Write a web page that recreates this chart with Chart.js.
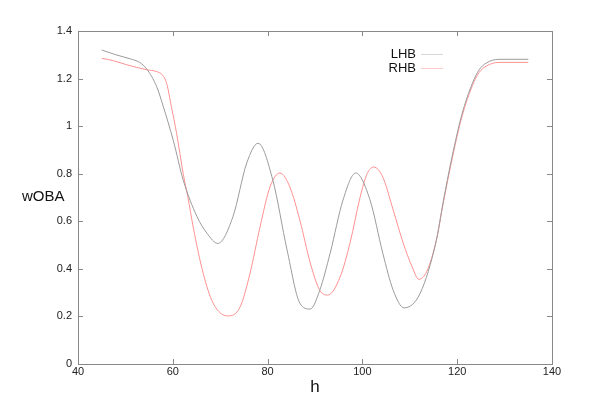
<!DOCTYPE html>
<html>
<head>
<meta charset="utf-8">
<script src="https://cdn.jsdelivr.net/npm/chart.js@4"></script>
<style>
  html, body { margin: 0; padding: 0; background: #fff; }
  #wrap { width: 611px; height: 408px; }
</style>
</head>
<body>
<div id="wrap"><canvas id="plot"></canvas></div>
<script>
const lhbH = [45, 48, 51, 53, 54.5, 56.6, 58, 60.1, 62.2, 65.1, 67.2, 69.5, 72.7, 75.6, 78, 81.1, 84.1, 86.8, 89, 91, 93.2, 95.9, 98.6, 101.6, 104.3, 106.5, 108.8, 112.2, 115.6, 117, 118.9, 121, 123.2, 124.6, 126.1, 128.8, 135]
const lhbV = [1.32, 1.30, 1.283, 1.268, 1.24, 1.166, 1.082, 0.94, 0.773, 0.62, 0.55, 0.507, 0.62, 0.845, 0.928, 0.773, 0.48, 0.256, 0.231, 0.31, 0.466, 0.689, 0.803, 0.69, 0.466, 0.31, 0.236, 0.298, 0.52, 0.677, 0.87, 1.05, 1.18, 1.236, 1.265, 1.281, 1.281]

const rhbH = [45, 47.5, 50.3, 54.5, 56.5, 57.8, 58.7, 59.7, 60.8, 62.2, 63.2, 64.3, 66.4, 68.5, 71.6, 74.2, 76.3, 78.4, 80.5, 82.6, 84.7, 86.8, 89, 91, 92.7, 95.3, 97.4, 99.5, 101, 102.4, 104.3, 106.5, 108.6, 110.5, 111.9, 113.6, 115.6, 117, 118.9, 121, 123.2, 124.6, 126.1, 128.8, 135]
const rhbV = [1.285, 1.275, 1.258, 1.237, 1.23, 1.215, 1.18, 1.082, 0.97, 0.80, 0.70, 0.576, 0.382, 0.256, 0.202, 0.24, 0.382, 0.576, 0.744, 0.803, 0.744, 0.605, 0.425, 0.31, 0.29, 0.366, 0.51, 0.70, 0.80, 0.828, 0.786, 0.647, 0.509, 0.408, 0.356, 0.39, 0.52, 0.67, 0.86, 1.04, 1.17, 1.225, 1.252, 1.268, 1.268]

const xTicks = [40, 60, 80, 100, 120, 140]
const yTicks = [0, 0.2, 0.4, 0.6, 0.8, 1, 1.2, 1.4]

const grayLine = 'rgb(155, 155, 155)'
const redLine = 'rgb(255, 145, 145)'
const font = 'Liberation Sans, Arial, sans-serif'

function pts(xs, ys) {
  return xs.map((x, i) => ({ x: x, y: ys[i] }))
}

// frame, inward ticks on all four sides, axis titles and legend
const decor = {
  id: 'decor',
  afterDraw(chart) {
    const ctx = chart.ctx
    const a = chart.chartArea
    const xs = chart.scales.x
    const ys = chart.scales.y
    ctx.save()
    ctx.strokeStyle = '#888'
    ctx.lineWidth = 1
    ctx.strokeRect(Math.round(a.left) + 0.5, Math.round(a.top) + 0.5, Math.round(a.right - a.left), Math.round(a.bottom - a.top))
    ctx.beginPath()
    xTicks.forEach(v => {
      const px = Math.round(xs.getPixelForValue(v)) + 0.5
      ctx.moveTo(px, a.bottom); ctx.lineTo(px, a.bottom - 5)
      ctx.moveTo(px, a.top); ctx.lineTo(px, a.top + 5)
    })
    yTicks.forEach(v => {
      const py = Math.round(ys.getPixelForValue(v)) + 0.5
      ctx.moveTo(a.left, py); ctx.lineTo(a.left + 5, py)
      ctx.moveTo(a.right, py); ctx.lineTo(a.right - 5, py)
    })
    ctx.stroke()

    ctx.fillStyle = '#111'
    ctx.font = '15px ' + font
    ctx.textAlign = 'left'
    ctx.textBaseline = 'middle'
    ctx.fillText('wOBA', 22, 197)
    ctx.font = '17px ' + font
    ctx.textAlign = 'center'
    ctx.fillText('h', 315, 387)

    const items = [['LHB', 'rgb(215, 215, 215)', 54], ['RHB', 'rgb(255, 200, 200)', 68]]
    ctx.font = '13px ' + font
    ctx.textAlign = 'right'
    items.forEach(it => {
      ctx.fillStyle = '#111'
      ctx.fillText(it[0], 416, it[2])
      ctx.strokeStyle = it[1]
      ctx.beginPath()
      ctx.moveTo(421, it[2] + 0.5)
      ctx.lineTo(443, it[2] + 0.5)
      ctx.stroke()
    })
    ctx.restore()
  }
}

new Chart(document.getElementById('plot'), {
  type: 'line',
  data: {
    datasets: [{
      label: 'LHB',
      data: pts(lhbH, lhbV),
      borderColor: grayLine,
      borderWidth: 1,
      pointRadius: 0,
      cubicInterpolationMode: 'monotone'
    }, {
      label: 'RHB',
      data: pts(rhbH, rhbV),
      borderColor: redLine,
      borderWidth: 1,
      pointRadius: 0,
      cubicInterpolationMode: 'monotone'
    }]
  },
  options: {
    responsive: true,
    maintainAspectRatio: false,
    animation: false,
    layout: { padding: { left: 0, top: 31, right: 59, bottom: 0 } },
    plugins: { legend: { display: false }, tooltip: { enabled: false } },
    scales: {
      x: {
        type: 'linear',
        min: 40, max: 140,
        afterFit: s => { s.height = 44 },
        afterBuildTicks: s => { s.ticks = xTicks.map(v => ({ value: v })) },
        grid: { display: false, drawTicks: false },
        border: { display: false },
        ticks: { padding: 1, color: '#222', font: { family: font, size: 11 }, maxRotation: 0 }
      },
      y: {
        min: 0, max: 1.4,
        afterFit: s => { s.width = 78 },
        afterBuildTicks: s => { s.ticks = yTicks.map(v => ({ value: v })) },
        grid: { display: false, drawTicks: false },
        border: { display: false },
        ticks: { padding: 6, color: '#222', font: { family: font, size: 11 }, callback: v => String(+v.toFixed(1)) }
      }
    }
  },
  plugins: [decor]
})
</script>
</body>
</html>
